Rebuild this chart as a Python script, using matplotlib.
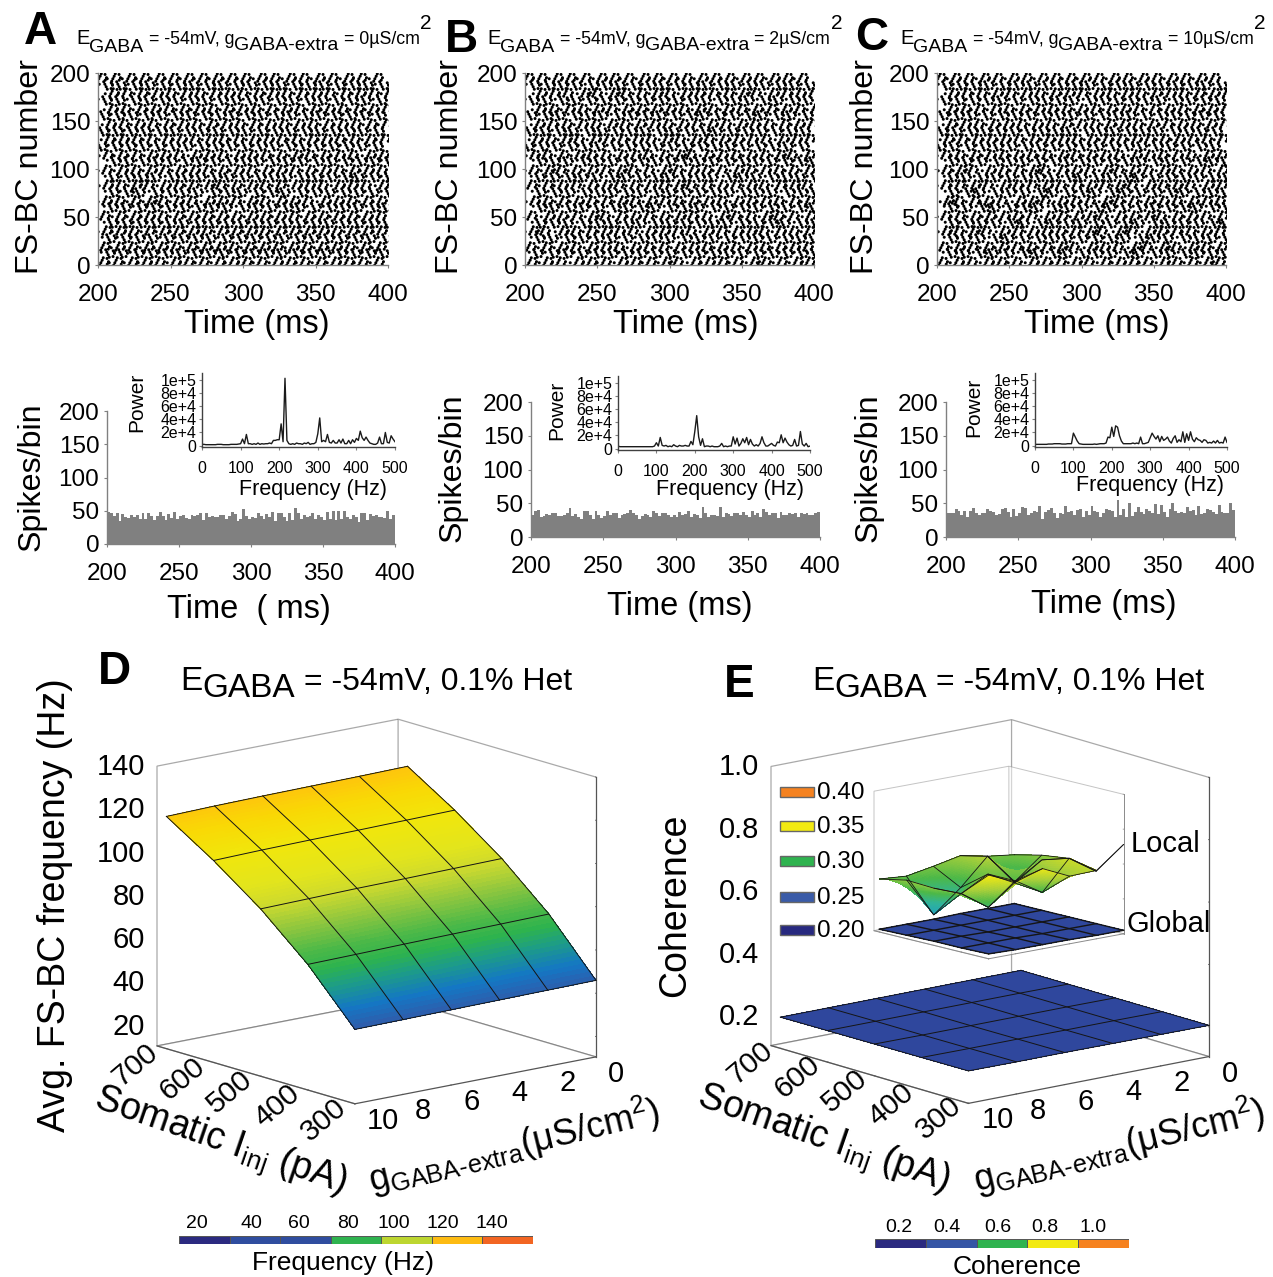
import numpy as np
import matplotlib
matplotlib.use("Agg")
import matplotlib.pyplot as plt
from matplotlib.path import Path
from matplotlib.patches import Rectangle
from matplotlib.colors import LinearSegmentedColormap, Normalize
from mpl_toolkits.mplot3d import proj3d

plt.rcParams['font.family'] = ['Liberation Sans', 'DejaVu Sans']
plt.rcParams['mathtext.fontset'] = 'custom'
plt.rcParams['mathtext.rm'] = 'Liberation Sans'
plt.rcParams['mathtext.it'] = 'Liberation Sans'
plt.rcParams['mathtext.bf'] = 'Liberation Sans:bold'

W, H = 1273, 1277

# ---------- DATA ----------
time_ticks = [200, 250, 300, 350, 400]
neuron_ticks = [0, 50, 100, 150, 200]
hist_ticks = [0, 50, 100, 150, 200]
freq_ticks = [0, 100, 200, 300, 400, 500]
power_ticks = [0, 20, 40, 60, 80, 100]
power_labels = ['0', '2e+4', '4e+4', '6e+4', '8e+4', '1e+5']
raster_rows = [4, 12, 20, 28, 36, 44, 52, 60, 68, 76, 84, 92, 100, 108, 116, 124, 132, 140, 148, 156, 164, 172, 180, 188, 196]

streaks_a = [
 [2,12,22,32,41,52,61,71,82,92,101,111,122,131,141,152,162,171,181,192],
 [6,15,26,36,46,55,66,76,85,96,106,116,125,136,146,155,166,176,186,195],
 [3,13,22,33,43,52,63,73,83,92,103,113,122,133,142,153,163,172,183,193],
 [7,17,27,36,47,57,67,76,87,97,107,117,126,137,147,157,167,177,186,197],
 [4,14,23,34,44,54,64,73,84,94,104,113,124,134,144,154,163,174,184,194],
 [8,18,28,38,48,57,68,78,88,98,108,118,128,138,148,157,168,178,188,198],
 [3,14,24,34,43,54,64,74,84,94,105,114,124,133,144,154,164,174,184,193],
 [8,17,28,38,48,58,69,78,87,99,108,118,129,137,148,159,168,177,189,197],
 [4,13,24,35,43,54,63,75,84,93,105,113,125,134,143,155,164,173,184,194],
 [9,19,27,39,49,58,67,79,89,97,109,119,127,139,149,158,169,178,188,199],
 [5,14,25,33,45,54,64,75,83,94,105,113,124,135,144,153,165,174,183,195],
 [9,20,29,38,50,59,69,80,88,99,110,119,128,140,149,159,170,178,189,199],
 [4,15,24,35,44,55,65,74,85,95,104,115,125,134,145,155,164,175,185,194],
 [10,19,30,39,49,60,69,79,90,100,109,120,129,139,150,159,170,180,189,199],
 [5,15,25,36,45,54,66,75,84,96,105,114,125,136,144,155,165,174,186,195],
 [1,11,21,30,41,51,60,71,81,90,101,111,120,131,141,150,161,171,180,191],
 [6,16,25,35,46,56,65,76,85,95,106,116,125,135,146,156,165,175,186,196],
 [2,12,22,31,42,51,62,71,81,92,101,112,122,131,142,151,162,172,181,192],
 [7,16,27,36,47,57,66,77,87,96,107,117,126,137,146,157,167,176,187,197],
 [3,13,22,33,42,53,62,73,83,92,103,112,123,132,143,152,163,173,182,193],
 [8,17,28,38,47,58,68,77,88,98,107,118,128,137,148,158,167,178,188,197],
 [4,13,24,33,44,53,64,73,84,93,104,113,124,133,144,153,164,174,183,194],
 [9,18,29,39,48,59,68,79,89,98,109,119,128,139,149,158,169,179,188,199],
 [5,14,25,34,45,55,64,75,84,95,104,115,124,135,145,154,165,175,184,195],
 [1,10,21,30,41,50,61,70,81,90,100,111,120,131,140,151,160,171,180,191]]
streaks_b = [
 [3,14,23,35,44,54,66,75,85,96,104,116,126,135,145,157,165,176,187,195],
 [7,18,28,38,49,59,69,79,89,99,110,120,130,139,149,160,170,180,190,199],
 [2,13,24,33,45,54,63,75,84,94,105,115,124,135,144,155,164,175,185,194],
 [8,17,29,39,49,58,69,80,89,98,110,119,129,140,150,159,169,180,189,198],
 [4,12,25,33,44,55,64,73,85,95,104,113,125,134,145,155,163,175,184,195],
 [9,19,28,40,50,59,70,78,90,99,109,120,129,138,150,160,170,178,190,199],
 [3,15,24,34,46,53,65,75,84,95,106,114,124,136,144,154,166,174,184,196],
 [10,18,30,39,49,61,69,80,88,100,110,118,130,139,150,159,170,179,190,198],
 [5,14,25,35,44,55,66,74,86,95,104,115,125,134,146,155,165,174,185,195],
 [9,20,29,41,50,59,70,79,91,99,109,120,130,139,151,160,169,181,190,199],
 [3,14,24,33,45,55,63,74,85,94,105,113,124,135,144,155,163,175,185,193],
 [8,19,30,38,48,60,68,79,90,98,109,119,128,141,149,158,170,179,188,199],
 [4,15,23,34,45,54,65,73,84,96,104,115,124,134,146,154,165,174,184,195],
 [10,19,28,40,49,59,70,80,89,99,110,119,129,140,150,159,169,180,190,198],
 [5,13,25,36,44,54,66,75,83,95,106,113,125,135,144,155,164,175,183,195],
 [1,11,20,31,41,50,61,71,81,90,100,111,121,131,140,150,161,171,180,191],
 [7,16,27,35,47,56,66,76,85,97,105,117,125,136,146,156,165,177,186,195],
 [2,12,23,31,43,51,62,72,81,93,101,112,123,131,142,152,162,172,183,192],
 [8,17,27,38,47,59,67,78,88,97,108,117,128,137,149,157,167,178,188,197],
 [3,14,22,34,43,52,64,73,83,92,103,114,122,133,143,154,162,174,182,194],
 [9,18,29,38,49,58,69,79,89,99,108,120,128,139,148,159,169,179,188,199],
 [4,13,25,33,44,54,64,74,84,94,104,114,123,135,144,153,165,173,185,194],
 [10,19,28,40,48,60,68,79,90,98,110,119,129,139,150,158,170,179,189,198],
 [5,15,24,34,46,55,64,75,85,94,105,115,124,135,144,155,164,175,184,195],
 [1,10,21,30,40,51,60,70,81,90,100,110,121,130,140,151,160,171,180,190]]
streaks_c = [
 [2,13,22,34,43,53,65,74,84,95,103,115,125,134,144,156,164,175,186,194],
 [8,17,29,37,48,60,68,80,88,100,109,119,131,138,150,159,171,179,189,198],
 [3,14,23,34,44,53,64,74,85,93,106,114,123,136,143,156,163,176,184,195],
 [9,18,28,40,48,59,70,79,88,99,109,120,128,141,149,158,170,179,188,199],
 [5,13,24,32,45,54,65,74,84,94,105,112,126,133,146,154,164,174,185,194],
 [10,20,29,39,51,58,71,79,89,98,110,119,130,138,151,159,169,179,191,198],
 [4,14,25,35,45,54,64,76,85,96,105,113,125,135,145,153,165,175,184,196],
 [9,19,31,38,50,60,68,81,89,99,111,118,129,140,149,160,170,178,190,199],
 [6,13,24,34,43,56,65,73,85,94,104,116,124,134,145,155,164,176,185,194],
 [10,21,28,40,49,59,71,78,90,100,108,121,129,139,150,161,169,180,189,198],
 [4,14,25,33,46,54,64,75,84,95,105,114,125,133,146,154,165,173,186,195],
 [9,18,30,39,49,60,69,79,91,98,110,119,131,138,149,160,170,179,190,199],
 [5,15,23,35,44,55,66,73,85,95,104,116,124,135,144,156,164,175,184,196],
 [10,19,29,41,50,59,70,80,89,100,109,120,130,139,151,159,170,181,189,198],
 [4,14,25,35,44,55,64,74,86,94,105,115,124,136,145,154,165,174,186,195],
 [1,10,21,31,40,50,61,70,80,91,100,110,121,131,140,151,160,170,181,190],
 [6,16,26,36,46,55,66,76,86,95,106,116,126,136,145,156,166,175,185,196],
 [2,12,23,32,42,52,62,72,82,91,103,112,121,132,142,151,163,172,181,192],
 [8,18,27,38,48,57,68,77,88,98,107,118,128,137,148,158,168,177,188,197],
 [3,13,22,33,44,53,63,74,83,92,103,114,123,132,143,154,163,173,183,193],
 [9,18,28,39,48,59,69,78,88,99,108,119,129,138,149,159,168,179,189,198],
 [4,14,24,34,43,54,65,74,84,93,105,114,124,134,144,153,165,174,184,194],
 [10,19,29,40,49,60,69,80,90,99,110,119,130,139,150,160,169,180,190,199],
 [5,15,25,34,45,55,64,75,85,95,104,115,125,134,145,155,165,175,184,195],
 [1,11,20,31,40,51,60,71,80,91,101,110,121,130,141,150,161,170,181,190]]

hist_a = [48,46,42,46,35,45,41,39,44,41,43,37,46,38,46,42,36,42,48,42,36,45,39,48,37,42,44,39,38,43,
          42,44,46,36,46,41,42,40,41,43,44,37,42,48,45,35,37,53,42,38,41,39,46,42,37,45,40,48,35,47,
          46,41,35,47,36,54,46,38,44,41,42,46,37,43,41,36,48,37,49,36,49,37,50,41,38,44,41,33,46,47,
          36,45,42,44,40,41,39,50,38,43]
hist_b = [33,38,40,29,31,34,33,35,36,31,31,33,35,43,31,34,30,27,38,38,33,27,38,33,28,31,39,33,35,35,
          28,33,34,35,40,35,32,27,31,34,33,29,39,36,31,35,35,32,30,33,30,37,33,34,38,30,34,32,28,45,
          35,30,33,33,31,44,30,36,34,31,36,35,33,37,33,30,38,33,36,30,41,37,33,36,35,28,37,32,33,36,
          34,36,30,35,34,36,33,32,35,37]
hist_c = [36,35,36,42,38,32,38,30,39,43,35,32,36,35,42,38,37,33,34,41,43,37,30,41,31,36,45,43,32,36,
          38,37,46,27,37,40,43,36,28,36,34,46,37,38,32,40,41,30,39,33,46,38,37,30,36,42,40,38,29,55,
          33,42,30,50,31,37,45,37,34,41,39,35,49,34,48,37,30,41,50,38,36,37,35,44,38,40,33,46,34,36,
          42,40,37,34,47,37,36,35,51,40]

power_a = [2,2,1.5,1.5,1.5,1.5,1.5,1.5,2,2,2,1.5,1.5,1.5,1.5,2,2,2,2,2.5,3,10,3,17,3,3,2,3,2,4,2,3,2.5,3,3,4,3,8,8,9,
           9,33,6,102,8,3,2,3,2,4,3,3,2,4,3,5,2,3,3,5,18,42,6,8,6,17,5,4,8,4,4,9,4,10,3,3,8,3,9,5,
           11,8,22,12,8,13,8,4,3,2,2,4,13,3,3,20,5,4,15,10,6]
power_b = [4,3,3,3,3,3,3,3,3,3,3,3,3,3,3,3,3,3,3,4,9,4,17,5,4,5,3,4,3,6,4,3,5,4,4,5,4,4,11,6,
           26,50,18,5,15,3,4,4,3,4,3,3,3,4,8,3,4,3,4,4,18,7,16,4,8,15,9,17,6,14,7,4,6,4,8,18,9,4,4,6,
           8,5,4,10,9,21,9,16,10,6,4,5,14,4,5,26,7,4,8,3,4]
power_c = [2,2,2,2,2,2,2,2.5,2.5,2.5,3,3,3,3,2.5,2.5,2.5,3,3,3,19,13,7,3,2.5,2,2,2,2,2,2,2.5,2,2.5,3,3,3,4,13,12,
           28,14,30,28,15,7,3,3,3,3,3,4,3,4,3,13,3,3,4,5,12,19,14,10,15,6,14,8,10,13,7,4,11,15,5,9,6,21,5,18,
           8,21,10,6,12,9,8,5,9,8,4,5,4,7,4,8,4,5,4,13,5]

inj = [700, 600, 500, 400, 300]
gext = [10, 8, 6, 4, 2, 0]
inj_ticks = [300, 400, 500, 600, 700]
gext_ticks = [0, 2, 4, 6, 8, 10]
freq_z_ticks = [20, 40, 60, 80, 100, 120, 140]
coh_z_ticks = [0.2, 0.4, 0.6, 0.8, 1.0]
local_z_ticks = [0.20, 0.25, 0.30, 0.35, 0.40]
freq_surface = [[118, 118.5, 118.8, 119, 119.2, 119.5],
                [104, 104.5, 104.8, 105, 105.3, 105.6],
                [88, 88.4, 88.8, 89, 89.3, 89.6],
                [68.7, 69, 69.4, 69.7, 70, 70.3],
                [45, 45.2, 45.4, 45.6, 45.8, 46]]
coh_global = [[.205, .205, .205, .205, .205, .205],
              [.206, .206, .206, .206, .206, .205],
              [.207, .206, .206, .206, .206, .205],
              [.208, .207, .207, .206, .206, .205],
              [.209, .208, .208, .207, .206, .205]]
coh_local = [[.276, .273, .280, .288, .280, .275],
             [.284, .227, .259, .297, .253, .284],
             [.282, .267, .288, .268, .294, .289],
             [.284, .257, .288, .264, .306, .280],
             [.320, .303, .315, .297, .298, .328]]
coh_inset_global = [[.204, .204, .204, .205, .205, .205],
                    [.205, .205, .205, .205, .205, .205],
                    [.206, .206, .205, .205, .205, .205],
                    [.206, .206, .206, .205, .205, .205],
                    [.207, .206, .206, .206, .205, .205]]
freq_bar_labels = ['20', '40', '60', '80', '100', '120', '140']
freq_bar_colors = ['#2b2a80', '#2f4d9f', '#2f4d9f', '#2fb34f', '#bdd630', '#fdbb12', '#f26522']
coh_bar_labels = ['0.2', '0.4', '0.6', '0.8', '1.0']
coh_bar_colors = ['#2b2a80', '#3555a5', '#2fb34f', '#f2ea12', '#f6821f']
local_legend_labels = ['0.40', '0.35', '0.30', '0.25', '0.20']
local_legend_colors = ['#f58220', '#f2ea12', '#2fb34f', '#3a5ba8', '#27297f']

GRAY = '#808080'
fig = plt.figure(figsize=(W / 100, H / 100), dpi=100, facecolor='white')


def px_rect(x0, y0, x1, y1):
    return [x0 / W, 1 - y1 / H, (x1 - x0) / W, (y1 - y0) / H]


def ftext(x, y, s, size, **kw):
    kw.setdefault('ha', 'center')
    kw.setdefault('va', 'center')
    return fig.text(x / W, 1 - y / H, s, fontsize=size, **kw)


def rich(x, y, pieces):
    rend = fig.canvas.get_renderer()
    for s, size, dy, gap in pieces:
        t = ftext(x, y + dy, s, size, ha='left', va='baseline')
        x += t.get_window_extent(rend).width + gap


def dot_streak(sign):
    centres = [(-.5, 1.05 * sign), (-.18, .35 * sign), (.18, -.35 * sign), (.5, -1.05 * sign),
               (1.6, .75 * sign), (1.95, .05 * sign), (1.55, -.85 * sign), (-1.75, .35 * sign)]
    return Path.make_compound_path(*[Path.circle(c, .42) for c in centres])


M_BACK, M_FWD = dot_streak(1), dot_streak(-1)


def style2d(ax, size):
    for s in ('top', 'right'):
        ax.spines[s].set_visible(False)
    for s in ('left', 'bottom'):
        ax.spines[s].set_color(GRAY)
        ax.spines[s].set_linewidth(1.0)
    ax.tick_params(colors='black', labelsize=size, color=GRAY, length=2.5, width=0.8, pad=3)
    ax.patch.set_alpha(0)


def raster(rect, streaks, letter, lx, ly, lab_x, time_x):
    ax = fig.add_axes(px_rect(*rect))
    for k, (row, times) in enumerate(zip(raster_rows, streaks)):
        ax.plot(np.array(times) + 200, [row] * len(times), ls='none', color='black',
                marker=M_BACK if k % 2 else M_FWD, markersize=12.2, markeredgewidth=0, clip_on=True)
    ax.set_xlim(200, 400)
    ax.set_ylim(0, 200)
    ax.set_xticks(time_ticks)
    ax.set_yticks(neuron_ticks)
    style2d(ax, 17.5)
    ax.tick_params(axis='x', pad=11)
    ftext(lab_x, 167, 'FS-BC number', 23.2, rotation=90)
    ftext(time_x, 324, 'Time (ms)', 23.5)
    ftext(lx, ly + 3, letter, 33, fontweight='bold')
    return ax


raster((98, 73, 388, 265), streaks_a, 'A', 40, 29, 30, 257)
raster((525, 73, 814, 265), streaks_b, 'B', 461, 37, 450, 686)
raster((937, 73, 1226, 265), streaks_c, 'C', 872, 35, 865, 1097)
for tx, val in ((76, '0'), (487, '2'), (900, '10')):
    rich(tx, 44, [('E', 14.5, 0, 0), ('GABA', 14, 8, 5), ('= -54mV, g', 12.8, 0, 0), ('GABA-extra', 14, 6, 5),
                  ('= ' + val + '\u00b5S/cm', 12.8, 0, 1), ('2', 15, -15, 0)])


def hist_panel(rect, vals, spec, inset, lab_x, lab_y, xlabel, time_xy, pow_x, pow_y, fl_xy):
    ax = fig.add_axes(px_rect(*rect))
    edges = np.linspace(200, 400, len(vals) + 1)
    ax.bar(edges[:-1], vals, width=np.diff(edges), align='edge', color=GRAY, linewidth=0)
    ax.set_xlim(200, 400)
    ax.set_ylim(0, 200)
    ax.set_xticks(time_ticks)
    ax.set_yticks(hist_ticks)
    style2d(ax, 17.5)
    ax.tick_params(axis='x', pad=11)
    ftext(lab_x, lab_y, 'Spikes/bin', 23.2, rotation=90)
    ftext(time_xy[0], time_xy[1] + 2, xlabel, 23.5)
    a2 = fig.add_axes(px_rect(*inset))
    a2.plot(np.linspace(0, 500, len(spec)), spec, color='#1a1a1a', lw=1.0)
    a2.set_xlim(0, 500)
    a2.set_ylim(-2, 110)
    a2.set_xticks(freq_ticks)
    a2.set_yticks(power_ticks)
    a2.set_yticklabels(power_labels)
    style2d(a2, 11.5)
    a2.spines['left'].set_color('#404040')
    a2.spines['bottom'].set_color('#404040')
    a2.tick_params(axis='x', pad=8, length=2)
    a2.tick_params(axis='y', pad=2, length=2)
    ftext(pow_x, pow_y, 'Power', 15, rotation=90)
    ftext(fl_xy[0], fl_xy[1], 'Frequency (Hz)', 15.5)


hist_panel((107, 411, 395, 544), hist_a, power_a, (202, 373, 395, 447), 32, 477, 'Time  ( ms)', (249, 608), 137, 402, (313, 490))
hist_panel((531, 402, 820, 537), hist_b, power_b, (618, 376, 810, 450), 453, 468, 'Time (ms)', (680, 605), 557, 410, (730, 490))
hist_panel((946, 402, 1235, 537), hist_c, power_c, (1035, 373, 1227, 447), 869, 468, 'Time (ms)', (1104, 603), 974, 407, (1150, 485))


def to_px(ax, x, y, z):
    ax.apply_aspect()
    xs, ys, _ = proj3d.proj_transform(x, y, z, ax.get_proj())
    dx, dy = ax.transData.transform((xs, ys))
    return np.array([dx, H - dy])


def fit3d(limits, view, aspect, left_top, right_bottom, zorder=2):
    ax = fig.add_axes([.1, .1, .4, .4], projection='3d', proj_type='ortho', computed_zorder=False, zorder=zorder)
    ax.view_init(elev=view[0], azim=view[1])
    ax.set_box_aspect(aspect)
    ax.set_xlim(*limits[0], view_margin=0)
    ax.set_ylim(*limits[1], view_margin=0)
    ax.set_zlim(*limits[2], view_margin=0)
    ax.patch.set_alpha(0)
    ax.grid(False)
    target = np.array([[left_top[0], H - left_top[1]], [right_bottom[0], H - right_bottom[1]]], float)
    for _ in range(4):
        ax.apply_aspect()
        pos = ax.get_position(original=True)
        got = np.array([to_px(ax, limits[0][1], limits[1][1], limits[2][1]),
                        to_px(ax, limits[0][0], limits[1][0], limits[2][0])])
        got[:, 1] = H - got[:, 1]
        s = (target[1, 0] - target[0, 0]) / (got[1, 0] - got[0, 0])
        shift = target.mean(0) - got.mean(0)
        cx, cy = pos.x0 + pos.width / 2 + shift[0] / W, pos.y0 + pos.height / 2 + shift[1] / H
        nw, nh = pos.width * s, pos.height * s
        ax.set_position([cx - nw / 2, cy - nh / 2, nw, nh])
    return ax


def box_style(ax, lw=0.9, col='#555555'):
    for a in (ax.xaxis, ax.yaxis, ax.zaxis):
        a.pane.set_facecolor((1, 1, 1, 0))
        a.pane.set_edgecolor(col)
        a.pane.set_linewidth(lw)
        a.line.set_color(col)
        a.line.set_linewidth(lw)
        a.set_tick_params(colors=col, labelcolor=(0, 0, 0, 0), labelsize=1)
        a._axinfo['tick']['inward_factor'] = 0.0
        a._axinfo['tick']['outward_factor'] = 0.03
        a._axinfo['tick']['linewidth'] = {True: 0.6, False: 0.4}


def refine(a, n=8):
    a = np.asarray(a, float)
    r = np.arange(a.shape[0])
    c = np.arange(a.shape[1])
    rr = np.linspace(0, a.shape[0] - 1, (a.shape[0] - 1) * n + 1)
    cc = np.linspace(0, a.shape[1] - 1, (a.shape[1] - 1) * n + 1)
    tmp = np.array([np.interp(rr, r, a[:, j]) for j in c]).T
    return np.array([np.interp(cc, c, row) for row in tmp])


def surface(ax, Z, cmap, norm, zorder=3, grid_lw=0.7, n=16, hide_corner=False):
    X, Y = np.meshgrid(inj, gext, indexing='ij')
    Xf, Yf, Zf = refine(X, n), refine(Y, n), refine(Z, n)
    zc = (Zf[:-1, :-1] + Zf[1:, 1:] + Zf[1:, :-1] + Zf[:-1, 1:]) / 4
    fc = cmap(norm(zc))
    if hide_corner:
        fc[-n:, -n:, 3] = 0
    ax.plot_surface(Xf, Yf, Zf, facecolors=fc, rstride=1, cstride=1, shade=False,
                    linewidth=0, antialiased=False, zorder=zorder)
    Za = np.asarray(Z)
    for i in range(X.shape[0]):
        ax.plot(X[i], Y[i], Za[i], color='#151515', lw=grid_lw, zorder=zorder + 1)
    for j in range(X.shape[1]):
        ax.plot(X[:, j], Y[:, j], Za[:, j], color='#151515', lw=grid_lw, zorder=zorder + 1)


freq_cmap = LinearSegmentedColormap.from_list('freq', [
    (0.0, '#2f5cab'), (7 / 75, '#1477c4'), (15 / 75, '#1d9d86'), (21 / 75, '#2db34e'), (27 / 75, '#4bb848'),
    (35 / 75, '#8dc63f'), (43 / 75, '#cbd92f'), (50 / 75, '#e3e51c'), (60 / 75, '#f1e60b'), (68 / 75, '#f9d805'), (1.0, '#ffc20e')])
freq_norm = Normalize(45, 120)
coh_cmap = LinearSegmentedColormap.from_list('coh', ['#2f479d', '#2f479d'])
local_cmap = LinearSegmentedColormap.from_list('local', [
    (0.0, '#1f9fc0'), (0.25, '#2fb39a'), (0.45, '#4cb848'), (0.7, '#a8cf3a'), (1.0, '#f5ea10')])
local_norm = Normalize(.225, .32)


def main_box(limits, left_top, right_bottom, zticks, zlabels, i_off, g_off):
    ax = fit3d(limits, (13.8, 140.8), (313, 311, 288), left_top, right_bottom)
    box_style(ax)
    ax.set_xticks(inj_ticks)
    ax.set_yticks(gext_ticks)
    ax.set_zticks(zticks)
    for v in inj_ticks:
        p = to_px(ax, v, limits[1][1], limits[2][0])
        ftext(p[0] + i_off[0], p[1] + i_off[1], str(v), 21.5, rotation=40)
    for v in gext_ticks:
        p = to_px(ax, limits[0][0], v, limits[2][0])
        ftext(p[0] + g_off[0] + (8 if v == 10 else 0), p[1] + g_off[1], str(v), 21)
    for v, s in zip(zticks, zlabels):
        p = to_px(ax, limits[0][1], limits[1][1], v)
        ftext(p[0] - 12, p[1] + 1, s, 21, ha='right')
    return ax


d_lims = ((300, 720), (0, 10), (10.6, 140))
e_lims = ((300, 720), (0, 10), (0.105, 1.0))
axd = main_box(d_lims, (157, 766), (596, 1057), freq_z_ticks, [str(v) for v in freq_z_ticks], (-31, 16), (20, 17))
surface(axd, freq_surface, freq_cmap, freq_norm)
axe = main_box(e_lims, (771, 767), (1209, 1056), coh_z_ticks, ['%.1f' % v for v in coh_z_ticks], (-30, 15), (21, 17))
surface(axe, coh_global, coh_cmap, Normalize(0, 1), n=1)

axi = fit3d(((300, 720), (0, 10), (0.2, 0.4)), (12.3, 139), (175, 179, 143), (874, 791), (1123.5, 934), zorder=4)
box_style(axi, lw=0.7, col='#8a8a8a')
axi.set_xticks(inj_ticks)
axi.set_yticks(gext_ticks)
axi.set_zticks(local_z_ticks)
surface(axi, coh_local, local_cmap, local_norm, zorder=5, grid_lw=0.6, hide_corner=True)
surface(axi, coh_inset_global, coh_cmap, Normalize(0, 1), zorder=3, grid_lw=1.0, n=1)

# axis titles and labels
ftext(55, 905, 'Avg. FS-BC frequency (Hz)', 27, rotation=90)
ftext(675, 905, 'Coherence', 27, rotation=90)
ftext(114, 672, 'D', 33, fontweight='bold')
ftext(739, 685, 'E', 33, fontweight='bold')
for tx in (180, 812):
    rich(tx, 690, [('E', 24, 0, 0), ('GABA', 24, 7, 9), ('= -54mV, 0.1% Het', 23, 0, 0)])
som = r'Somatic $\mathrm{I_{inj}}$ (pA)'
gl = r'$\mathrm{g_{GABA\text{-}extra}(\mu S/cm^{2})}$'
ftext(220, 1142, som, 27, rotation=-19)
ftext(514, 1146, gl, 26, rotation=13.5)
ftext(823, 1140, som, 27, rotation=-19)
ftext(1119, 1146, gl, 26, rotation=13.5)


def colorbar(rect, colors):
    ax = fig.add_axes(px_rect(*rect))
    ax.bar(range(len(colors)), [1] * len(colors), width=1, color=colors, edgecolor='#555555', linewidth=0.7)
    ax.set_xlim(-.5, len(colors) - .5)
    ax.set_ylim(0, 1)
    ax.axis('off')


colorbar((179, 1236, 533, 1244), freq_bar_colors)
for x, s in zip((197, 251, 299, 348, 394, 443, 492), freq_bar_labels):
    ftext(x, 1224, s, 14)
ftext(343, 1263, 'Frequency (Hz)', 19)
colorbar((875, 1239, 1129, 1248), coh_bar_colors)
for x, s in zip((899, 947, 998, 1045, 1093), coh_bar_labels):
    ftext(x, 1228, s, 14)
ftext(1017, 1267, 'Coherence', 19)

# inset legend in pixel space
ov = fig.add_axes([0, 0, 1, 1], zorder=10)
ov.set_xlim(0, W)
ov.set_ylim(H, 0)
ov.axis('off')
for y, s, c in zip((792, 826, 861, 897, 930), local_legend_labels, local_legend_colors):
    ov.add_patch(Rectangle((780, y - 5), 34, 10, facecolor=c, edgecolor='#666666', lw=1))
    ov.text(817, y + 1, s, fontsize=17.5, va='center', ha='left')
ov.text(1131, 844, 'Local', fontsize=21, va='center', ha='left')
ov.text(1126, 924, 'Global', fontsize=21, va='center', ha='left')

fig.savefig('out.png', dpi=100)
